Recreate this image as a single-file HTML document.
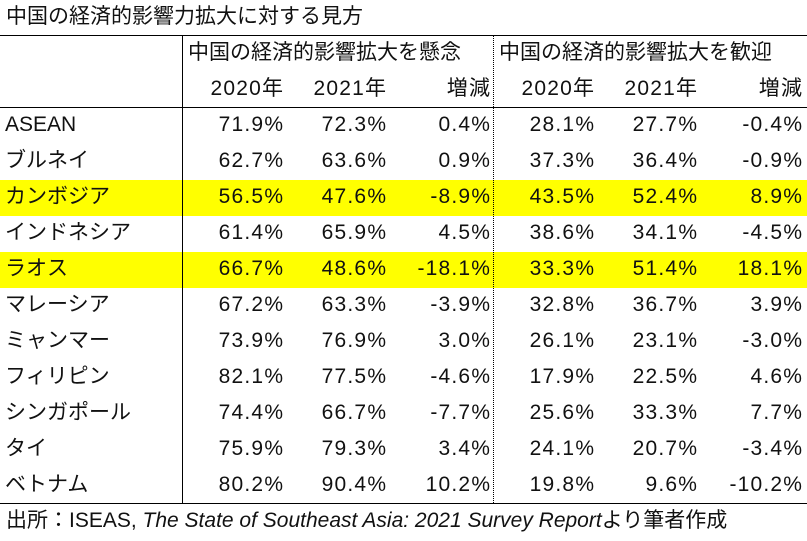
<!DOCTYPE html>
<html><head><meta charset="utf-8">
<style>
body{margin:0;width:807px;height:541px;background:#fff;overflow:hidden;font-family:"Liberation Sans","Noto Sans CJK JP",sans-serif;color:#111;}
.a{position:absolute;font-size:21px;line-height:36px;white-space:nowrap;}
.r{text-align:right;letter-spacing:1.2px;margin-right:-1.2px;}
.hl{position:absolute;left:0;width:807px;height:36px;background:#ffff00;}
</style></head><body>
<div class="a" style="left:6px;top:-1px;">中国の経済的影響力拡大に対する見方</div>
<div class="hl" style="top:180px"></div>
<div class="hl" style="top:252px"></div>
<div style="position:absolute;left:0;top:35px;width:807px;height:1px;background:#000"></div>
<div style="position:absolute;left:0;top:107px;width:807px;height:1px;background:#000"></div>
<div style="position:absolute;left:0;top:503px;width:807px;height:1px;background:#000"></div>
<div style="position:absolute;left:182px;top:36px;width:1px;height:467px;background:#000"></div>
<div style="position:absolute;left:493px;top:36px;width:0;height:467px;border-left:1px dotted #000"></div>
<div class="a" style="left:188px;top:35px;">中国の経済的影響拡大を懸念</div>
<div class="a" style="left:499px;top:35px;">中国の経済的影響拡大を歓迎</div>
<div id="rows"></div>
<div class="a" style="left:6px;top:503px;">出所：ISEAS, <i>The State of Southeast Asia: 2021 Survey Report</i>より筆者作成</div>
<script>
const countries=["ASEAN","ブルネイ","カンボジア","インドネシア","ラオス","マレーシア","ミャンマー","フィリピン","シンガポール","タイ","ベトナム"];
const concern2020=["71.9%","62.7%","56.5%","61.4%","66.7%","67.2%","73.9%","82.1%","74.4%","75.9%","80.2%"];
const concern2021=["72.3%","63.6%","47.6%","65.9%","48.6%","63.3%","76.9%","77.5%","66.7%","79.3%","90.4%"];
const concernDiff=["0.4%","0.9%","-8.9%","4.5%","-18.1%","-3.9%","3.0%","-4.6%","-7.7%","3.4%","10.2%"];
const welcome2020=["28.1%","37.3%","43.5%","38.6%","33.3%","32.8%","26.1%","17.9%","25.6%","24.1%","19.8%"];
const welcome2021=["27.7%","36.4%","52.4%","34.1%","51.4%","36.7%","23.1%","22.5%","33.3%","20.7%","9.6%"];
const welcomeDiff=["-0.4%","-0.9%","8.9%","-4.5%","18.1%","3.9%","-3.0%","4.6%","7.7%","-3.4%","-10.2%"];
const headers=["2020年","2021年","増減","2020年","2021年","増減"];
const rights=[283,386,490,594,697,802];
const root=document.getElementById('rows');
function cell(txt,right,top,name){
  const d=document.createElement('div');
  d.className='a r';
  d.style.right=(807-right)+'px';
  d.style.top=top+'px';
  d.textContent=txt;
  
  
  root.appendChild(d);
}
headers.forEach((h,i)=>cell(h,rights[i],71,'column-header'));
const cols=[concern2020,concern2021,concernDiff,welcome2020,welcome2021,welcomeDiff];
countries.forEach((c,r)=>{
  const top=107+r*36;
  const l=document.createElement('div');
  l.className='a';
  l.style.left='5px';
  l.style.top=top+'px';
  l.textContent=c;
  
  
  root.appendChild(l);
  cols.forEach((col,i)=>cell(col[r],rights[i],top,'value-cell'));
});
</script>
</body></html>
